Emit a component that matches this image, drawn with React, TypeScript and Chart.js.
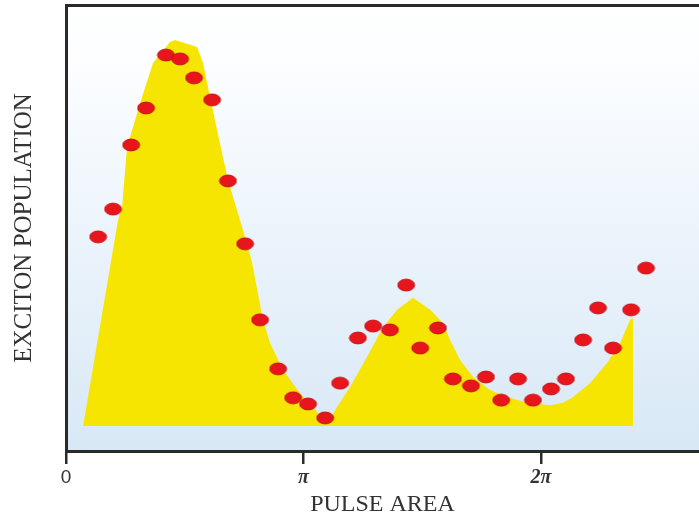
import React, { useEffect, useRef } from "react";
import { Chart, registerables } from "chart.js";

Chart.register(...registerables);

// Pulse area in units of pi, exciton population normalised to the first maximum
const dotX = [0.135, 0.198, 0.274, 0.337, 0.421, 0.48, 0.539, 0.615, 0.682, 0.754, 0.817, 0.893, 0.956, 1.019, 1.091, 1.154, 1.229, 1.293, 1.364, 1.432, 1.491, 1.566, 1.629, 1.705, 1.768, 1.832, 1.903, 1.966, 2.042, 2.105, 2.177, 2.24, 2.303, 2.379, 2.442];
const dotY = [0.49, 0.562, 0.728, 0.824, 0.961, 0.951, 0.902, 0.845, 0.635, 0.472, 0.275, 0.148, 0.073, 0.057, 0.021, 0.111, 0.228, 0.259, 0.249, 0.365, 0.202, 0.254, 0.122, 0.104, 0.127, 0.067, 0.122, 0.067, 0.096, 0.122, 0.223, 0.306, 0.202, 0.301, 0.409];

const theoryX = [0.072, 0.219, 0.236, 0.257, 0.32, 0.366, 0.438, 0.459, 0.552, 0.577, 0.636, 0.682, 0.745, 0.783, 0.829, 0.859, 0.914, 0.985, 1.04, 1.078, 1.103, 1.141, 1.196, 1.267, 1.335, 1.394, 1.461, 1.533, 1.587, 1.617, 1.659, 1.714, 1.785, 1.857, 1.941, 2.038, 2.093, 2.135, 2.206, 2.278, 2.333, 2.375, 2.387, 2.387];
const theoryY = [0, 0.534, 0.567, 0.723, 0.852, 0.94, 0.995, 1.0, 0.982, 0.94, 0.767, 0.637, 0.508, 0.425, 0.275, 0.215, 0.145, 0.085, 0.049, 0.021, 0.008, 0.049, 0.101, 0.179, 0.256, 0.301, 0.332, 0.301, 0.267, 0.223, 0.171, 0.127, 0.093, 0.075, 0.06, 0.054, 0.06, 0.075, 0.111, 0.163, 0.215, 0.275, 0.28, 0];

const tickValues = [0, 1, 2];
const tickLabels = ["0", "π", "2π"];

const xMin = 0;
const xMax = 2.665;
const yMin = -0.0648;
const yMax = 1.0907;

const bgPlugin = {
  id: "plotBackground",
  beforeDraw(chart: any) {
    const { ctx, chartArea } = chart;
    if (!chartArea) return;
    const g = ctx.createLinearGradient(0, chartArea.top, 0, chartArea.bottom);
    g.addColorStop(0, "#ffffff");
    g.addColorStop(0.15, "#fbfdff");
    g.addColorStop(1, "#d8e8f6");
    ctx.save();
    ctx.fillStyle = g;
    ctx.fillRect(chartArea.left, chartArea.top, chartArea.right - chartArea.left, chartArea.bottom - chartArea.top);
    ctx.restore();
  },
};

function makeDot(): HTMLCanvasElement {
  const c = document.createElement("canvas");
  c.width = 19;
  c.height = 14;
  const g = c.getContext("2d")!;
  g.beginPath();
  g.ellipse(9.5, 7, 8.4, 5.9, 0, 0, Math.PI * 2);
  g.fillStyle = "#e8161c";
  g.fill();
  g.lineWidth = 1;
  g.strokeStyle = "#c01015";
  g.stroke();
  return c;
}

export default function App() {
  const ref = useRef<HTMLCanvasElement>(null);

  useEffect(() => {
    if (!ref.current) return;
    const dot = makeDot();
    const chart = new Chart(ref.current, {
      type: "scatter",
      data: {
        datasets: [
          {
            type: "scatter",
            data: dotX.map((x, i) => ({ x, y: dotY[i] })),
            pointStyle: dot as any,
            pointRadius: 7,
            backgroundColor: "#e8161c",
            borderWidth: 0,
          } as any,
          {
            type: "line",
            data: theoryX.map((x, i) => ({ x, y: theoryY[i] })),
            borderWidth: 0,
            borderColor: "rgba(0,0,0,0)",
            backgroundColor: "#f6e500",
            pointRadius: 0,
            fill: "origin",
            tension: 0,
          } as any,
        ],
      },
      options: {
        responsive: false,
        animation: false,
        layout: { padding: 0, autoPadding: false },
        plugins: {
          legend: { display: false },
          tooltip: { enabled: false },
        },
        scales: {
          x: {
            type: "linear",
            position: "bottom",
            min: xMin,
            max: xMax,
            afterFit: (s: any) => {
              s.height = 68;
              s.paddingLeft = 0;
              s.paddingRight = 0;
            },
            afterBuildTicks: (s: any) => {
              s.ticks = tickValues.map((v) => ({ value: v }));
            },
            grid: {
              display: true,
              drawOnChartArea: false,
              drawTicks: true,
              tickLength: 13,
              color: "#2a2a2a",
              lineWidth: 2.5,
            },
            border: { display: true, color: "#2a2a2a", width: 3 },
            ticks: {
              padding: 2,
              color: "#333333",
              callback: (v: any) => tickLabels[tickValues.indexOf(Number(v))] ?? "",
              font: (c: any) =>
                c.tick && c.tick.value === 0
                  ? { family: "'Liberation Sans', Arial, sans-serif", size: 19 }
                  : { family: "'Liberation Serif', 'Times New Roman', serif", size: 20, style: "italic", weight: "bold" },
              maxRotation: 0,
              autoSkip: false,
            },
            title: {
              display: true,
              text: "PULSE AREA",
              color: "#333333",
              font: { family: "'Liberation Serif', 'Times New Roman', serif", size: 24 },
              padding: { top: 0, bottom: 0 },
            },
          },
          x2: {
            type: "linear",
            position: "top",
            min: xMin,
            max: xMax,
            afterFit: (s: any) => {
              s.height = 5;
              s.paddingLeft = 0;
              s.paddingRight = 0;
            },
            grid: { display: false, drawOnChartArea: false, drawTicks: false },
            ticks: { display: false },
            border: { display: true, color: "#2a2a2a", width: 3 },
          },
          y: {
            type: "linear",
            position: "left",
            min: yMin,
            max: yMax,
            afterFit: (s: any) => {
              s.width = 66;
              s.paddingTop = 0;
              s.paddingBottom = 0;
            },
            grid: { display: false, drawOnChartArea: false, drawTicks: false },
            ticks: { display: false },
            border: { display: true, color: "#2a2a2a", width: 3 },
            title: {
              display: true,
              text: "EXCITON POPULATION",
              color: "#333333",
              font: { family: "'Liberation Serif', 'Times New Roman', serif", size: 25 },
              padding: { top: 9, bottom: 0 },
            },
          },
        },
      },
      plugins: [bgPlugin],
    });
    return () => chart.destroy();
  }, []);

  return (
    <div style={{ position: "absolute", left: 0, top: 0, width: 699, height: 519, background: "#ffffff" }}>
      <canvas ref={ref} width={699} height={519} style={{ width: 699, height: 519, display: "block" }} />
    </div>
  );
}
